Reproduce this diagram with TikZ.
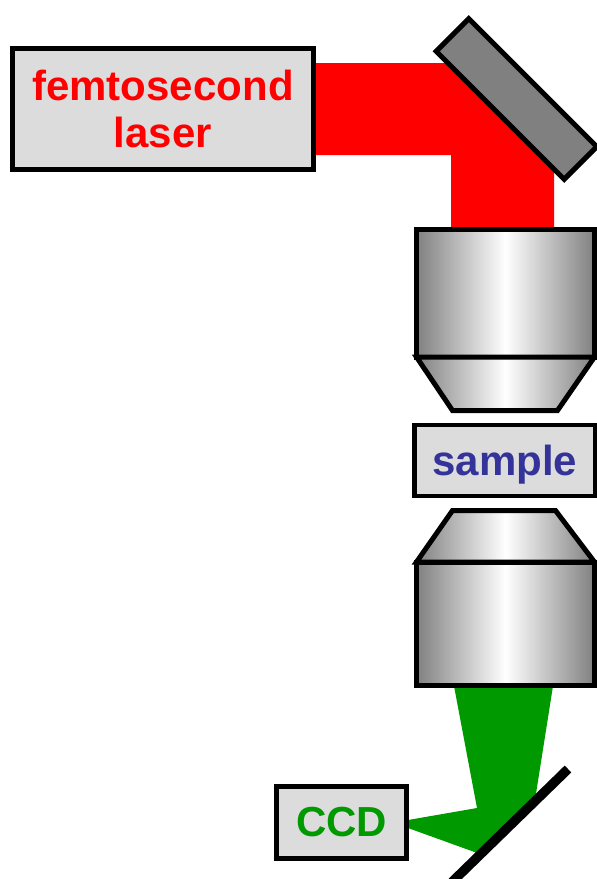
\documentclass[tikz,border=0pt]{standalone}
\usepackage{fontspec}
\setmainfont{Liberation Sans}
\definecolor{boxgray}{HTML}{DCDCDC}
\definecolor{steel}{HTML}{808080}
\definecolor{mirrorgray}{HTML}{808080}
\definecolor{laserred}{HTML}{FF0000}
\definecolor{signalgreen}{HTML}{009900}
\definecolor{sampleblue}{HTML}{333399}
\begin{document}
\begin{tikzpicture}[x=1pt,y=-1pt,line join=miter,
  box/.style={draw=black,line width=5pt,fill=boxgray,inner sep=0pt,
    font=\fontsize{42}{47}\selectfont\bfseries,align=center},
  lens/.style={draw=black,line width=5pt,left color=steel,right color=steel,middle color=white}]
\useasboundingbox (0,0) rectangle (597,879);

% excitation beam from the laser, folded down by the mirror
\fill[laserred] (313,63) -- (446,63) -- (554,171) -- (554,229) -- (451,229) -- (451,155) -- (313,155) -- cycle;

% collected light, reflected towards the camera
\fill[signalgreen] (454,686) -- (553,686) -- (535,800) -- (480,854) -- (408,828) -- (408,820) -- (477,808) -- cycle;

% laser source
\node[box,minimum width=301pt,minimum height=121pt,text=laserred] (laser) at (163,109) {femtosecond\\laser};

% folding mirror
\draw[line width=5pt,fill=mirrorgray] (468.8,18.7) -- (596.8,146.7) -- (564.2,179.3) -- (436.2,51.3) -- cycle;

% upper objective
\draw[lens] (416.5,229.5) rectangle (594.5,357);
\draw[lens] (416.5,357) -- (594.5,357) -- (557.5,410.5) -- (452.5,410.5) -- cycle;

% sample
\node[box,line width=4.5pt,minimum width=180.5pt,minimum height=71pt,text depth=0pt,text=sampleblue] (sample) at (504.75,460.5) {sample};

% lower objective
\draw[lens] (452.5,510.5) -- (555.5,510.5) -- (594.5,562) -- (416.5,562) -- cycle;
\draw[lens] (416.5,562) rectangle (594.5,685.5);

% camera
\node[box,minimum width=130pt,minimum height=72pt,text=signalgreen] (ccd) at (341.5,822.5) {CCD};

% dichroic mirror
\coordinate (dmA) at (568,769);
\coordinate (dmB) at (452,882);
\draw[line width=9.5pt] (dmA) -- (dmB);
\end{tikzpicture}
\end{document}
